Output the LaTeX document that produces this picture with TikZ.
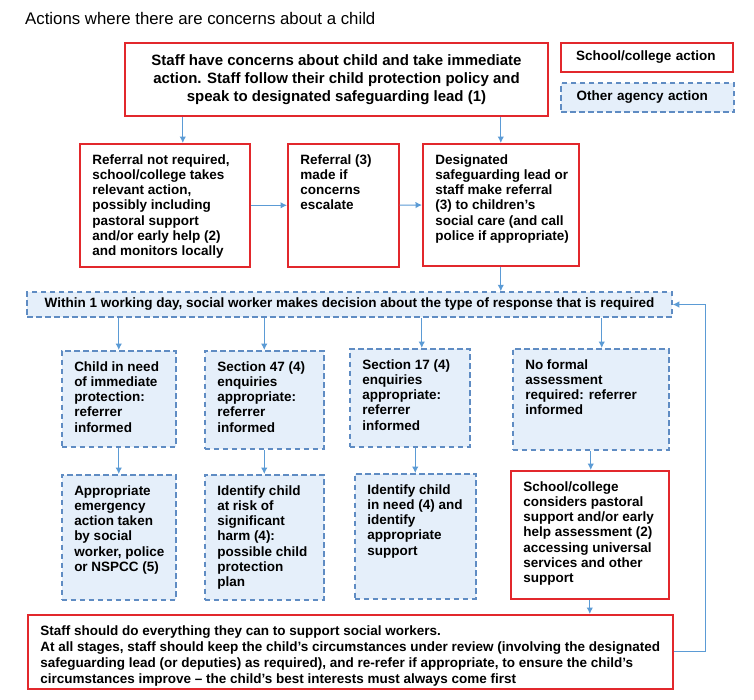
\documentclass[tikz,border=0pt]{standalone}
\usepackage{fontspec}
\setmainfont{Liberation Sans}
\usetikzlibrary{arrows.meta}
\definecolor{schoolred}{RGB}{226,40,44}
\definecolor{agencyblue}{RGB}{95,140,195}
\definecolor{agencyfill}{RGB}{229,239,250}
\definecolor{arrowblue}{RGB}{91,155,213}

\begin{document}
\begin{tikzpicture}[
x=1pt, y=-1pt,
every node/.style={
font=\fontsize{13.5}{15.3}\selectfont\bfseries
},
school/.style={draw=schoolred, line width=1.6pt, fill=white},
agency/.style={draw=agencyblue, line width=1.5pt, dash pattern=on 5.5pt off 3.5pt, fill=agencyfill},
cell/.style 2 args={
anchor=north west, inner sep=0pt,
execute at begin node={\begin{minipage}[t][#2pt][t]{#1pt}\raggedright\leftskip=12.5pt\vspace*{10.5pt}},
execute at end node={\end{minipage}}
},
flow/.style={draw=arrowblue, line width=1.1pt, -{Latex[length=6.5pt,width=6.5pt]}}
]

\path[use as bounding box, fill=white] (0,0) rectangle (754,699);

\node[font=\fontsize{16.8}{20}\selectfont, anchor=base west, inner sep=0pt] (title) at (25,24)
{Actions where there are concerns about a child};

\node[school, minimum width=423pt, minimum height=73pt, align=center,
font=\fontsize{15}{18}\selectfont\bfseries] (T) at (336.5,79.5)
{Staff have concerns about child and take immediate\\action. Staff follow their child protection policy and\\speak to designated safeguarding lead (1)};

% legend
\node[school, minimum width=172pt, minimum height=29pt, text width=142pt, align=left] (L1) at (647,57.5)
{School/college action};
\node[agency, minimum width=173pt, minimum height=29pt, text width=142pt, align=left] (L2) at (647.5,97.5)
{Other agency action};

% school/college boxes
\node[school, cell={170}{123}] (A) at (79,143)
{Referral not required,\\school/college takes\\relevant action,\\possibly including\\pastoral support\\and/or early help (2)\\and monitors locally};

\node[school, cell={111}{123}] (B) at (287,143)
{Referral (3)\\made if\\concerns\\escalate};

\node[school, cell={156}{122}] (C) at (422,143)
{Designated\\safeguarding lead or\\staff make referral\\(3) to children’s\\social care (and call\\police if appropriate)};

% decision bar
\node[agency, minimum width=645pt, minimum height=25pt, align=left] (W) at (349.5,304.5)
{Within 1 working day, social worker makes decision about the type of response that is required};

% responses
\node[agency, cell={114}{96}] (D1) at (61,350)
{Child in need\\of immediate\\protection:\\referrer\\informed};

\node[agency, cell={119}{98}] (D2) at (204,350)
{Section 47 (4)\\enquiries\\appropriate:\\referrer\\informed};

\node[agency, cell={120}{98}] (D3) at (349,348)
{Section 17 (4)\\enquiries\\appropriate:\\referrer\\informed};

\node[agency, cell={156}{101}] (D4) at (512,348)
{No formal\\assessment\\required: referrer\\informed};

\node[agency, cell={114}{125}] (E1) at (61,474)
{Appropriate\\emergency\\action taken\\by social\\worker, police\\or NSPCC (5)};

\node[agency, cell={119}{125}] (E2) at (204,474)
{Identify child\\at risk of\\significant\\harm (4):\\possible child\\protection\\plan};

\node[agency, cell={121}{125}] (E3) at (354,473)
{Identify child\\in need (4) and\\identify\\appropriate\\support};

\node[school, cell={158}{128}] (E4) at (510,470)
{School/college\\considers pastoral\\support and/or early\\help assessment (2)\\accessing universal\\services and other\\support};

\node[school, cell={645}{74}, font=\fontsize{13.5}{16}\selectfont\bfseries] (S) at (27,614)
{Staff should do everything they can to support social workers.\\At all stages, staff should keep the child’s circumstances under review (involving the designated\\safeguarding lead (or deputies) as required), and re-refer if appropriate, to ensure the child’s\\circumstances improve – the child’s best interests must always come first};

% connectors
\draw[flow] ([xshift=18pt]A.north |- T.south) -- ([xshift=18pt]A.north);
\draw[flow] (C.north |- T.south) -- (C.north);
\draw[flow] (A) -- (B);
\draw[flow] (B) -- (C);
\draw[flow] (C.south) -- (C.south |- W.north);

\draw[flow] (D1.north |- W.south) -- (D1.north);
\draw[flow] (D2.north |- W.south) -- (D2.north);
\draw[flow] ([xshift=12pt]D3.north |- W.south) -- ([xshift=12pt]D3.north);
\draw[flow] ([xshift=11pt]D4.north |- W.south) -- ([xshift=11pt]D4.north);

\draw[flow] (D1) -- (E1);
\draw[flow] (D2) -- (E2);
\draw[flow] (E3.north |- D3.south) -- (E3.north);
\draw[flow] (D4.south) -- (D4.south |- E4.north);
\draw[flow] (E4.south) -- (E4.south |- S.north);

\draw[flow] (S.east) -- ++(32,0) |- (W.east);

\end{tikzpicture}
\end{document}
